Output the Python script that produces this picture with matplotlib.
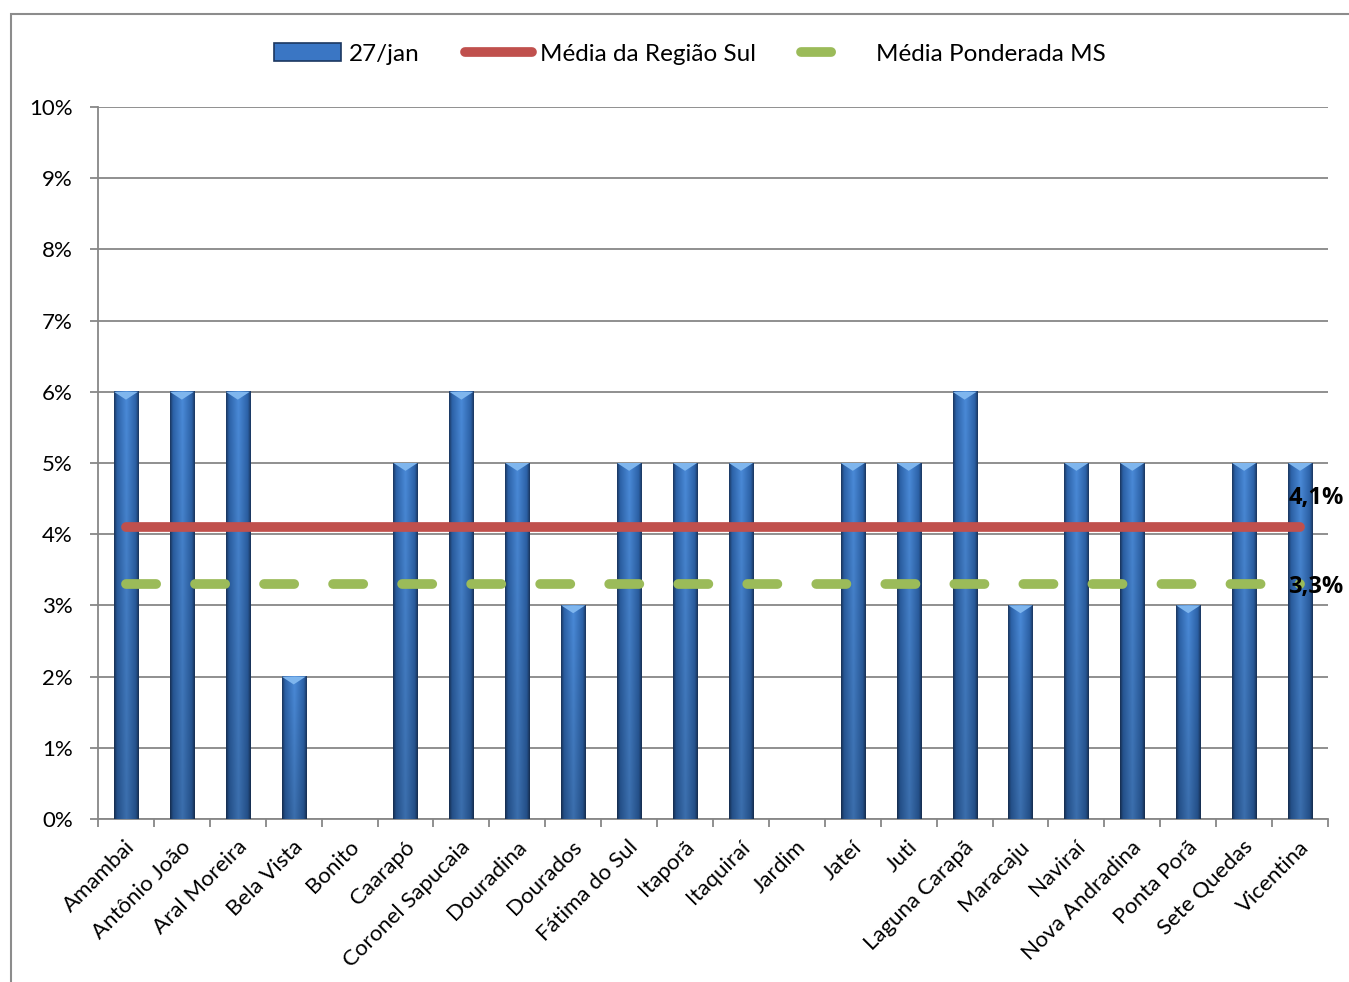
import numpy as np
import matplotlib
matplotlib.use("Agg")
import matplotlib.pyplot as plt
from matplotlib.patches import Rectangle, Polygon
from matplotlib.colors import to_rgb
from matplotlib.ticker import FixedLocator, FuncFormatter
from matplotlib.transforms import ScaledTranslation

plt.rcParams['font.family'] = ['Lato', 'DejaVu Sans']

municipios = ["Amambai", "Antônio João", "Aral Moreira", "Bela Vista", "Bonito",
              "Caarapó", "Coronel Sapucaia", "Douradina", "Dourados", "Fátima do Sul",
              "Itaporã", "Itaquiraí", "Jardim", "Jateí", "Juti", "Laguna Carapã",
              "Maracaju", "Naviraí", "Nova Andradina", "Ponta Porã", "Sete Quedas",
              "Vicentina"]
taxa_27jan = [0.06, 0.06, 0.06, 0.02, 0.0, 0.05, 0.06, 0.05, 0.03, 0.05, 0.05,
              0.05, 0.0, 0.05, 0.05, 0.06, 0.03, 0.05, 0.05, 0.03, 0.05, 0.05]
media_regiao_sul = 0.041
media_ponderada_ms = 0.033

W, H = 1349, 982
fig = plt.figure(figsize=(W / 100, H / 100), dpi=100)
ax = fig.add_axes([98 / W, 1 - 819 / H, 1230 / W, 712 / H])

x = np.arange(len(municipios))
bars = ax.bar(x, taxa_27jan, width=0.43, color='#3a76c4', zorder=3)

# cylinder-like shading for each bar: dark edges, light middle, darker foot
stops = [(0.0, '#1b3760'), (0.12, '#2c62a8'), (0.5, '#4a8ad8'),
         (0.88, '#2c62a8'), (1.0, '#1b3760')]
hs = np.linspace(0, 1, 64)
prof = np.array([np.interp(hs, [s[0] for s in stops], [to_rgb(s[1])[k] for s in stops])
                 for k in range(3)]).T
vs = np.linspace(0.8, 1.0, 64)[:, None, None]
grad = np.clip(prof[None, :, :] * vs, 0, 1)

for rect in bars:
    x0, w, h = rect.get_x(), rect.get_width(), rect.get_height()
    if h <= 0:
        continue
    ax.imshow(grad, extent=(x0, x0 + w, 0, h), aspect='auto', origin='lower',
              interpolation='bilinear', zorder=3.1)
    ax.add_patch(Polygon([(x0, h), (x0 + w, h), (x0 + w / 2, h - 0.0011)],
                         closed=True, facecolor='#7fb6ee', edgecolor='none', zorder=3.2))

n = len(municipios)
ax.plot([x[0], x[-1]], [media_regiao_sul] * 2, color='#c0504d', lw=7,
        solid_capstyle='round', zorder=4, label='Média da Região Sul')
ax.plot([x[0], x[-1]], [media_ponderada_ms] * 2, color='#9bbb59', lw=7,
        linestyle=(0, (3.1, 4.0)), dash_capstyle='round', zorder=4,
        label='Média Ponderada MS')

fmt_val = lambda v: f"{v * 100:.1f}%".replace('.', ',')
bold_font = dict(family=['Open Sans', 'DejaVu Sans'], fontweight='bold', fontsize=17)
ax.annotate(fmt_val(media_regiao_sul), xy=(x[-1], media_regiao_sul),
            xytext=(12, 21), textcoords='offset points', ha='center', va='center',
            zorder=5, **bold_font)
ax.annotate(fmt_val(media_ponderada_ms), xy=(x[-1], media_ponderada_ms),
            xytext=(11.5, -2), textcoords='offset points', ha='center', va='center',
            zorder=5, **bold_font)

ax.set_xlim(-0.5, n - 0.5)
ax.set_ylim(0, 0.10)
ax.set_yticks(np.arange(0, 0.1001, 0.01))
ax.yaxis.set_major_formatter(FuncFormatter(lambda v, p: f"{v * 100:.0f}%"))
ax.yaxis.grid(True, color='#878787', lw=1.3, zorder=0)
ax.set_axisbelow(True)

ax.xaxis.set_major_locator(FixedLocator(np.arange(n + 1) - 0.5))
ax.xaxis.set_major_formatter(FuncFormatter(lambda v, p: ''))
ax.xaxis.set_minor_locator(FixedLocator(x))
ax.set_xticklabels(municipios, minor=True, rotation=45, ha='right',
                   rotation_mode='anchor', va='center', fontsize=16)
ax.tick_params(axis='x', which='major', length=6, width=1.3, color='#878787', direction='out')
ax.tick_params(axis='x', which='minor', length=0, pad=18)
ax.tick_params(axis='y', length=6, width=1.3, color='#878787', pad=12, labelsize=16)
shift = ScaledTranslation(6 / 100, 0, fig.dpi_scale_trans)
for lbl in ax.get_xticklabels(minor=True):
    lbl.set_transform(lbl.get_transform() + shift)

for side in ['top', 'right']:
    ax.spines[side].set_visible(False)
for side in ['left', 'bottom']:
    ax.spines[side].set_color('#878787')
    ax.spines[side].set_linewidth(1.3)

handles = [Rectangle((0, 0), 1, 1, facecolor='#3a76c4', edgecolor='#1b3760', lw=1.2),
           ax.lines[0], ax.lines[1]]
labels = ['27/jan', 'Média da Região Sul', 'Média Ponderada MS']
fig.legend(handles, labels, loc='center', bbox_to_anchor=(690 / W, 1 - 54 / H),
           ncol=3, frameon=False, fontsize=17.5, handlelength=2.75,
           handletextpad=0.33, columnspacing=1.85)

fig.patches.append(Rectangle((11 / W, -0.05), 2, 1 - 14 / H + 0.05,
                             transform=fig.transFigure, fill=False,
                             edgecolor='#8c8c8c', lw=1.5))

fig.savefig('out.png', dpi=100)
